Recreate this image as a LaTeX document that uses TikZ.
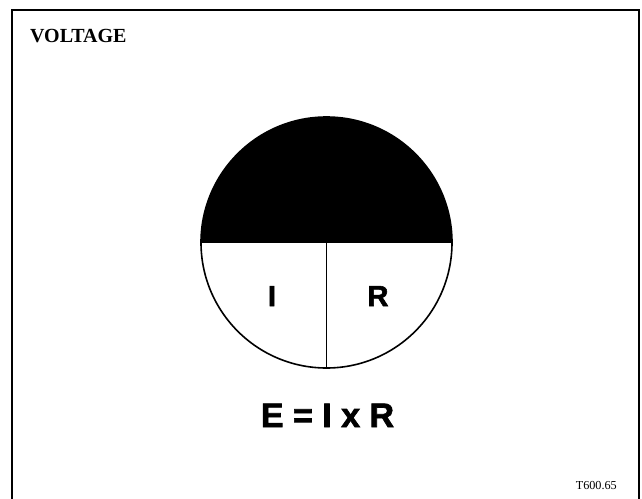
\documentclass[tikz,border=0pt]{standalone}
\usepackage{fontspec}
\setmainfont{Liberation Serif}
\newfontfamily\hsans[BoldFeatures={FakeBold=2}]{Liberation Sans}
\begin{document}
\begin{tikzpicture}[x=1pt,y=-1pt,
  frameline/.style={line width=2pt},
  letterlbl/.style={font=\hsans\bfseries\fontsize{29}{29}\selectfont, inner sep=0pt},
  eqlbl/.style={font=\hsans\bfseries\fontsize{34}{34}\selectfont, inner sep=0pt}]
\useasboundingbox (0,0) rectangle (642,498);
% frame (open at bottom)
\draw[frameline] (12,499) -- (12,10) -- (638.5,10) -- (638.5,499);
% title
\node[anchor=base west, font=\bfseries\fontsize{20}{20}\selectfont, inner sep=0pt] (title) at (30,42) {VOLTAGE};
% circle
\coordinate (c) at (326.5,242.5);
\fill[black] (c) ++(-125.5,0) arc[start angle=180, end angle=360, radius=125.5] -- cycle;
\draw[line width=1.6pt] (c) circle[radius=125.5];
\draw[line width=1.6pt] (201,242.5) -- (452,242.5);
\coordinate (vtop) at (326.5,242.5);
\coordinate (vbot) at (326.5,368);
\draw[line width=0.8pt] (vtop) -- (vbot);
\node[letterlbl, anchor=base] (I) at (272,306) {I};
\node[letterlbl, anchor=base] (R) at (378,306) {R};
% equation
\node[eqlbl, anchor=base] (eq) at (327.5,427) {E = I x R};
% code
\node[anchor=base east, font=\fontsize{12.2}{12.2}\selectfont, inner sep=0pt] (code) at (617,489) {T600.65};
\end{tikzpicture}
\end{document}
